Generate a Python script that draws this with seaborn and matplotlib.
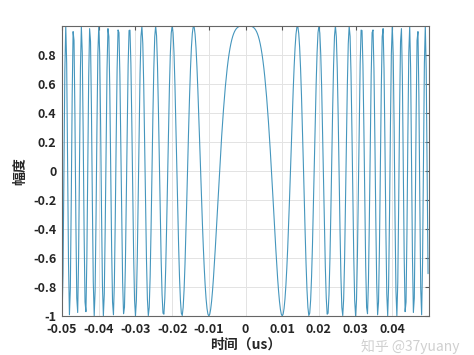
import numpy as np
import pandas as pd
import seaborn as sns
import matplotlib.pyplot as plt

# chirp parameters (time in us)
T = 0.1          # pulse width, us
K = 1.0e4        # chirp rate, MHz/us (first -1 at t = 0.01)
fs = 4000.0      # sample rate, MHz
xticks = [-0.05, -0.04, -0.03, -0.02, -0.01, 0, 0.01, 0.02, 0.03, 0.04]
xticklabels = ['-0.05', '-0.04', '-0.03', '-0.02', '-0.01', '0', '0.01', '0.02', '0.03', '0.04']
yticks = [-1, -0.8, -0.6, -0.4, -0.2, 0, 0.2, 0.4, 0.6, 0.8]
yticklabels = ['-1', '-0.8', '-0.6', '-0.4', '-0.2', '0', '0.2', '0.4', '0.6', '0.8']

t = np.arange(-T / 2, T / 2, 1 / fs)
sig = np.cos(np.pi * K * t ** 2)
df = pd.DataFrame({'t': t, 'amp': sig})

sns.set_style('white')
plt.rcParams['font.family'] = ['Noto Sans CJK SC', 'DejaVu Sans']
plt.rcParams['axes.unicode_minus'] = False

fig = plt.figure(figsize=(4.74, 3.55), dpi=100)
ax = fig.add_axes([0.131, 0.110, 0.774, 0.817])
sns.lineplot(data=df, x='t', y='amp', estimator=None, color='#4596bd', linewidth=0.8, ax=ax)

ax.set_xlim(-0.05, 0.05)
ax.set_ylim(-1, 0.9995)
ax.set_xticks(xticks)
ax.set_xticklabels(xticklabels, fontsize=9, fontweight='bold')
ax.set_yticks(yticks)
ax.set_yticklabels(yticklabels, fontsize=9, fontweight='bold')
ax.grid(True, color='#e3e3e3', linewidth=0.7)
ax.tick_params(direction='in', length=3, top=True, right=True, color='#555555')
ax.tick_params(axis='x', pad=5)
ax.tick_params(axis='y', pad=4)
for s in ax.spines.values():
    s.set_color('#666666')
    s.set_linewidth(0.8)

ax.set_xlabel('时间（us）', fontsize=10, fontweight='bold', labelpad=1)
ax.set_ylabel('幅度', fontsize=10, fontweight='bold', labelpad=4)

# watermark, kept just below the tick labels
fig.text(0.865, 0.004, '知乎 @37yuany', fontsize=10, color='#c4c4c4', alpha=0.8,
         ha='center', va='bottom')

fig.savefig('out.png', dpi=100)
